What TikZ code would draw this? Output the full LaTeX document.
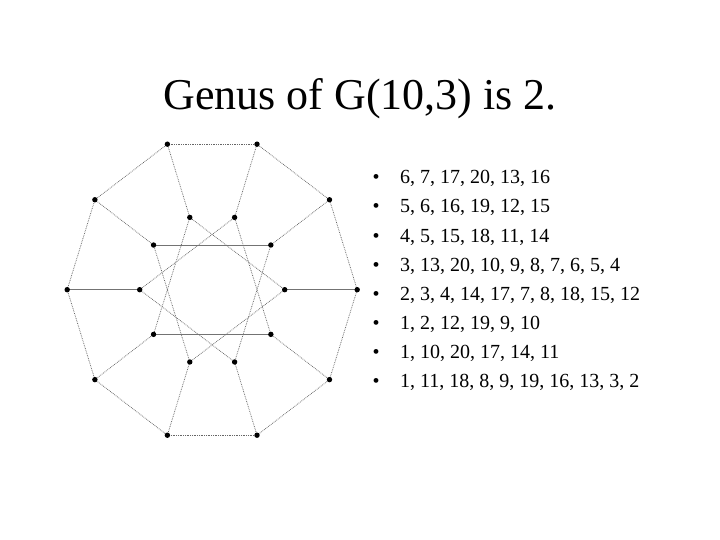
\documentclass[tikz,border=0pt]{standalone}
\usepackage{fontspec}
\setmainfont{Liberation Serif}
\begin{document}
\begin{tikzpicture}[x=1pt,y=-1pt,
  vtx/.style={circle,fill=black,inner sep=0pt,minimum size=5.4pt},
  dotedge/.style={draw=black!60,densely dotted,line width=0.75pt},
  solidedge/.style={draw=black!55,line width=0.9pt},
  titletext/.style={font=\fontsize{44}{50}\selectfont,anchor=base,inner sep=0pt},
  itemtext/.style={font=\fontsize{20}{24}\selectfont,anchor=base west,inner sep=0pt},
  bullettext/.style={font=\fontsize{20}{24}\selectfont,anchor=base,inner sep=0pt}]
\useasboundingbox (0,0) rectangle (720,540);
\fill[white] (0,0) rectangle (720,540);
% title
\node[titletext] (title) at (360,110) {Genus of G(10,3) is 2.};
% vertices
\foreach \k in {0,...,9}{
  \pgfmathsetmacro{\ang}{36*\k}
  \coordinate (o\k) at ({212.2+145*cos(\ang)},{289.7-153*sin(\ang)});
  \coordinate (i\k) at ({212.2+72.5*cos(\ang)},{289.7-76*sin(\ang)});
}
% outer decagon
\foreach \k in {0,...,9}{
  \pgfmathtruncatemacro{\n}{mod(\k+1,10)}
  \draw[dotedge] (o\k) -- (o\n);
}
% spokes
\foreach \k in {1,2,3,4,6,7,8,9}{
  \draw[dotedge] (o\k) -- (i\k);
}
\draw[solidedge] (o0) -- (i0);
\draw[solidedge] (o5) -- (i5);
% inner star
\foreach \k in {0,2,3,4,5,7,8,9}{
  \pgfmathtruncatemacro{\n}{mod(\k+3,10)}
  \draw[dotedge] (i\k) -- (i\n);
}
\draw[solidedge] (i1) -- (i4);
\draw[solidedge] (i6) -- (i9);
% dots
\foreach \k in {0,...,9}{
  \node[vtx] (vo\k) at (o\k) {};
  \node[vtx] (vi\k) at (i\k) {};
}
% list
\foreach \t [count=\j from 0] in {
  {6, 7, 17, 20, 13, 16},
  {5, 6, 16, 19, 12, 15},
  {4, 5, 15, 18, 11, 14},
  {3, 13, 20, 10, 9, 8, 7, 6, 5, 4},
  {2, 3, 4, 14, 17, 7, 8, 18, 15, 12},
  {1, 2, 12, 19, 9, 10},
  {1, 10, 20, 17, 14, 11},
  {1, 11, 18, 8, 9, 19, 16, 13, 3, 2}}{
  \node[bullettext] (b\j) at (376,{184+29*\j}) {•};
  \node[itemtext] (t\j) at (400,{184+29*\j}) {\t};
}
\end{tikzpicture}
\end{document}
